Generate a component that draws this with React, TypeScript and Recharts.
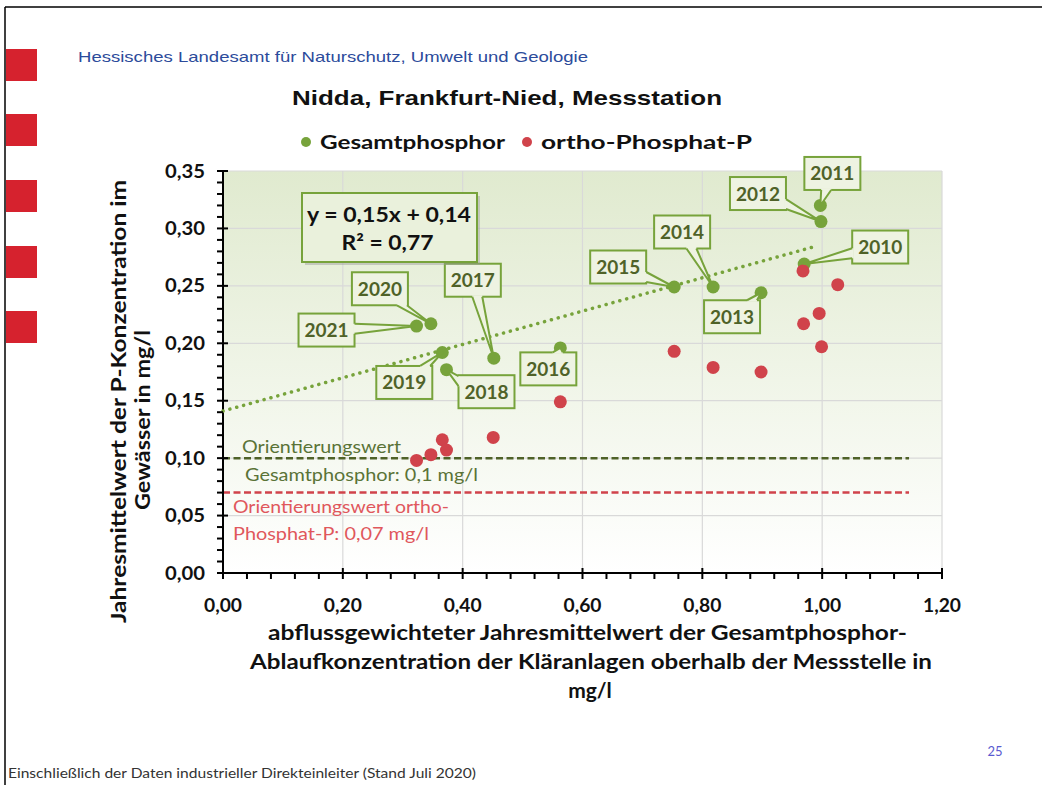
import { CartesianGrid, ComposedChart, ReferenceLine, Scatter, XAxis, YAxis } from "recharts";

// Gesamtphosphor (green) – one point per year
const years = [2010, 2011, 2012, 2013, 2014, 2015, 2016, 2017, 2018, 2019, 2020, 2021];
const gesamtX = [0.97, 0.997, 0.998, 0.898, 0.818, 0.753, 0.563, 0.452, 0.373, 0.366, 0.347, 0.323];
const gesamtY = [0.269, 0.32, 0.306, 0.244, 0.249, 0.249, 0.196, 0.187, 0.177, 0.192, 0.217, 0.215];

// ortho-Phosphat-P (red)
const orthoX = [0.323, 0.347, 0.366, 0.373, 0.451, 0.563, 0.753, 0.818, 0.898, 0.968, 0.969, 0.995, 0.999, 1.026];
const orthoY = [0.098, 0.103, 0.116, 0.107, 0.118, 0.149, 0.193, 0.179, 0.175, 0.263, 0.217, 0.226, 0.197, 0.251];

// linear trend (y = 0,15x + 0,14)
const trendX = [0, 0.993];
const trendY = [0.141, 0.285];

const xMajorTicks = [0, 0.2, 0.4, 0.6, 0.8, 1.0, 1.2];
const yMajorTicks = [0, 0.05, 0.1, 0.15, 0.2, 0.25, 0.3, 0.35];
const xMinorTicks = Array.from({ length: 31 }, (_, i) => (i * 4) / 100);
const yMinorTicks = Array.from({ length: 36 }, (_, i) => i / 100);

const orientGesamt = 0.1;
const orientOrtho = 0.07;
const orientEnd = 1.145;

// where each year's callout box sits relative to its point (px)
const calloutOffset: Record<number, [number, number]> = {
  2010: [76, -17],
  2011: [12, -32],
  2012: [-63, -28],
  2013: [-29, 24],
  2014: [-31, -55],
  2015: [-56, -20],
  2016: [-12, 21],
  2017: [-21, -78],
  2018: [40, 22],
  2019: [-38, 30],
  2020: [-51, -35],
  2021: [-90, 4],
};

const gesamtData = years.map((year, i) => ({ year, x: gesamtX[i], y: gesamtY[i] }));
const orthoData = orthoX.map((x, i) => ({ x, y: orthoY[i] }));
const trendData = trendX.map((x, i) => ({ x, y: trendY[i] }));

const GREEN = "#77a33b";
const DARK_GREEN = "#4f6228";
const RED = "#d0434b";
const BOX_FILL = "#eef3e2";
const CAL = "Lato, 'Open Sans', sans-serif";

const fmt = (v: number) => v.toFixed(2).replace(".", ",");

function XTick(props: any) {
  const { x, y, payload } = props;
  const major = Math.round(payload.value * 100) % 20 === 0;
  return (
    <g>
      <line x1={x} x2={x} y1={major ? y - 5 : y} y2={y + 6} stroke="#000" strokeWidth={2} />
      {major && (
        <text x={x} y={y + 39} textAnchor="middle" fontFamily={CAL} fontWeight={700} fontSize={18} fill="#111" textLength={38} lengthAdjust="spacingAndGlyphs">
          {fmt(payload.value)}
        </text>
      )}
    </g>
  );
}

function YTick(props: any) {
  const { x, y, payload } = props;
  const major = Math.round(payload.value * 100) % 5 === 0;
  return (
    <g>
      <line x1={x - 6} x2={major ? x + 5 : x} y1={y} y2={y} stroke="#000" strokeWidth={2} />
      {major && (
        <text x={x - 18} y={y + 6.5} textAnchor="end" fontFamily={CAL} fontWeight={700} fontSize={18} fill="#111" textLength={40} lengthAdjust="spacingAndGlyphs">
          {fmt(payload.value)}
        </text>
      )}
    </g>
  );
}

const Dot = (color: string) => (p: any) => <circle cx={p.cx} cy={p.cy} r={6.5} fill={color} />;

function Callout(props: any) {
  const { cx, cy, payload } = props;
  const off = calloutOffset[payload.year];
  if (!off || cx == null) return <g />;
  const bx = cx + off[0];
  const by = cy + off[1];
  const hw = 28;
  const hh = 16.5;
  const dx = cx - bx;
  const dy = cy - by;
  const clamp = (v: number, a: number, b: number) => Math.max(a, Math.min(b, v));
  let b1: number[];
  let b2: number[];
  if (Math.abs(dx) / hw > Math.abs(dy) / hh) {
    const sx = bx + Math.sign(dx) * hw;
    const yy = clamp(by + (dy * hw) / Math.abs(dx), by - hh + 6, by + hh - 6);
    b1 = [sx, yy - 5];
    b2 = [sx, yy + 5];
  } else {
    const sy = by + Math.sign(dy) * hh;
    const xx = clamp(bx + (dx * hh) / Math.abs(dy), bx - hw + 6, bx + hw - 6);
    b1 = [xx - 5, sy];
    b2 = [xx + 5, sy];
  }
  const pts = `${b1[0]},${b1[1]} ${cx},${cy} ${b2[0]},${b2[1]}`;
  return (
    <g>
      <rect x={bx - hw} y={by - hh} width={hw * 2} height={hh * 2} fill={BOX_FILL} stroke={GREEN} strokeWidth={2} />
      <polygon points={pts} fill={BOX_FILL} />
      <line x1={b1[0]} y1={b1[1]} x2={b2[0]} y2={b2[1]} stroke={BOX_FILL} strokeWidth={3} />
      <polyline points={pts} fill="none" stroke={GREEN} strokeWidth={2} strokeLinejoin="round" />
      <text x={bx} y={by + 7} textAnchor="middle" fontFamily={CAL} fontWeight={700} fontSize={19} fill={DARK_GREEN}>
        {payload.year}
      </text>
    </g>
  );
}

function OrientLabel(props: any) {
  const { viewBox, lines, color } = props;
  if (!viewBox) return null;
  return (
    <g>
      {lines.map((l: any, i: number) => (
        <text key={i} x={viewBox.x + l.dx} y={viewBox.y + l.dy} fontFamily={CAL} fontSize={17} fill={color} textLength={l.w} lengthAdjust="spacingAndGlyphs">
          {l.t}
        </text>
      ))}
    </g>
  );
}

const squares = [49, 114, 180, 246, 311];

export default function App() {
  return (
    <div style={{ position: "absolute", left: 0, top: 0, width: 1042, height: 785, background: "#fff", overflow: "hidden" }}>
      <div style={{ position: "absolute", left: 0, top: 0 }}>
        <ComposedChart width={1042} height={785} margin={{ top: 171, right: 100, bottom: 172, left: 163 }}>
          <defs>
            <linearGradient id="plotBg" x1="0" y1="0" x2="0" y2="1">
              <stop offset="0%" stopColor="#e0eacf" />
              <stop offset="100%" stopColor="#ffffff" />
            </linearGradient>
          </defs>
          <CartesianGrid stroke="#d9d9d9" strokeWidth={1.2} fill="url(#plotBg)" fillOpacity={1} horizontalValues={yMajorTicks} verticalValues={xMajorTicks} />
          <XAxis
            type="number"
            dataKey="x"
            domain={[0, 1.2]}
            ticks={xMinorTicks}
            interval={0}
            tickSize={0}
            tickMargin={0}
            tickLine={false}
            axisLine={{ stroke: "#000", strokeWidth: 2 }}
            tick={<XTick />}
            height={40}
          />
          <YAxis
            type="number"
            dataKey="y"
            domain={[0, 0.35]}
            ticks={yMinorTicks}
            interval={0}
            tickSize={0}
            tickMargin={0}
            tickLine={false}
            axisLine={{ stroke: "#000", strokeWidth: 2 }}
            tick={<YTick />}
            width={60}
          />
          <ReferenceLine
            segment={[{ x: 0, y: orientGesamt }, { x: orientEnd, y: orientGesamt }]}
            stroke={DARK_GREEN}
            strokeWidth={2.5}
            strokeDasharray="7 3.5"
            label={
              <OrientLabel
                color="#5a7337"
                lines={[
                  { t: "Orientierungswert", dx: 19, dy: -5, w: 159 },
                  { t: "Gesamtphosphor: 0,1 mg/l", dx: 22, dy: 23, w: 233 },
                ]}
              />
            }
          />
          <ReferenceLine
            segment={[{ x: 0, y: orientOrtho }, { x: orientEnd, y: orientOrtho }]}
            stroke={RED}
            strokeWidth={2.5}
            strokeDasharray="7 3.5"
            label={
              <OrientLabel
                color="#e0575c"
                lines={[
                  { t: "Orientierungswert ortho-", dx: 10, dy: 20, w: 216 },
                  { t: "Phosphat-P: 0,07 mg/l", dx: 10, dy: 47, w: 196 },
                ]}
              />
            }
          />
          <Scatter
            name="Trend"
            data={trendData}
            line={{ stroke: GREEN, strokeWidth: 3.5, strokeDasharray: "0.1 7", strokeLinecap: "round" }}
            shape={() => <g />}
            isAnimationActive={false}
          />
          <Scatter name="Gesamtphosphor" data={gesamtData} fill={GREEN} shape={Dot(GREEN)} isAnimationActive={false} />
          <Scatter name="ortho-Phosphat-P" data={orthoData} fill={RED} shape={Dot(RED)} isAnimationActive={false} />
          <Scatter name="labels" data={gesamtData} shape={Callout} isAnimationActive={false} />
        </ComposedChart>
      </div>
      <svg width={1042} height={785} style={{ position: "absolute", left: 0, top: 0, pointerEvents: "none" }}>
        <line x1={5} y1={7} x2={1042} y2={7} stroke="#000" strokeWidth={1.5} />
        <line x1={5} y1={7} x2={5} y2={785} stroke="#000" strokeWidth={1.5} />
        {squares.map((t) => (
          <rect key={t} x={6} y={t} width={31} height={32} fill="#d6222e" />
        ))}
        <text x={78} y={62} fontFamily="'Liberation Sans', Arial, sans-serif" fontSize={15} fill="#2c4b9b" textLength={510} lengthAdjust="spacingAndGlyphs">
          Hessisches Landesamt für Naturschutz, Umwelt und Geologie
        </text>
        <text x={292} y={105} fontFamily="'Liberation Sans', Arial, sans-serif" fontWeight={700} fontSize={21} fill="#111" textLength={430} lengthAdjust="spacingAndGlyphs">
          Nidda, Frankfurt-Nied, Messstation
        </text>
        <circle cx={306} cy={142} r={5} fill={GREEN} />
        <text x={320} y={149} fontFamily={CAL} fontWeight={700} fontSize={19} fill="#111" textLength={185} lengthAdjust="spacingAndGlyphs">
          Gesamtphosphor
        </text>
        <circle cx={527} cy={142} r={5} fill={RED} />
        <text x={541} y={149} fontFamily={CAL} fontWeight={700} fontSize={19} fill="#111" textLength={211} lengthAdjust="spacingAndGlyphs">
          ortho-Phosphat-P
        </text>
        <g transform="translate(118.5,401.5) rotate(-90)">
          <text x={0} y={7} textAnchor="middle" fontFamily={CAL} fontWeight={700} fontSize={20} fill="#111" textLength={443} lengthAdjust="spacingAndGlyphs">
            Jahresmittelwert der P-Konzentration im
          </text>
        </g>
        <g transform="translate(143,420) rotate(-90)">
          <text x={0} y={7} textAnchor="middle" fontFamily={CAL} fontWeight={700} fontSize={20} fill="#111" textLength={180} lengthAdjust="spacingAndGlyphs">
            Gewässer in mg/l
          </text>
        </g>
        <text x={587.5} y={640} textAnchor="middle" fontFamily={CAL} fontWeight={700} fontSize={21} fill="#111" textLength={639} lengthAdjust="spacingAndGlyphs">
          abflussgewichteter Jahresmittelwert der Gesamtphosphor-
        </text>
        <text x={591} y={669} textAnchor="middle" fontFamily={CAL} fontWeight={700} fontSize={21} fill="#111" textLength={682} lengthAdjust="spacingAndGlyphs">
          Ablaufkonzentration der Kläranlagen oberhalb der Messstelle  in
        </text>
        <text x={590} y={698} textAnchor="middle" fontFamily={CAL} fontWeight={700} fontSize={21} fill="#111">
          mg/l
        </text>
        <rect x={305} y={196} width={175} height={69} fill="#9a9a9a" opacity={0.45} />
        <rect x={302} y={193} width={175} height={69} fill="#eaf1dc" stroke={GREEN} strokeWidth={2} />
        <text x={389} y={222} textAnchor="middle" fontFamily={CAL} fontWeight={700} fontSize={20} fill="#111" textLength={164} lengthAdjust="spacingAndGlyphs">
          y = 0,15x + 0,14
        </text>
        <text x={387.5} y={250} textAnchor="middle" fontFamily={CAL} fontWeight={700} fontSize={20} fill="#111" textLength={92} lengthAdjust="spacingAndGlyphs">
          R² = 0,77
        </text>
        <text x={995} y={756} textAnchor="middle" fontFamily={CAL} fontSize={13} fill="#5a5ad0">
          25
        </text>
        <text x={8} y={778} fontFamily={CAL} fontSize={14} fill="#333" textLength={468} lengthAdjust="spacingAndGlyphs">
          Einschließlich der Daten industrieller Direkteinleiter (Stand Juli 2020)
        </text>
      </svg>
    </div>
  );
}
